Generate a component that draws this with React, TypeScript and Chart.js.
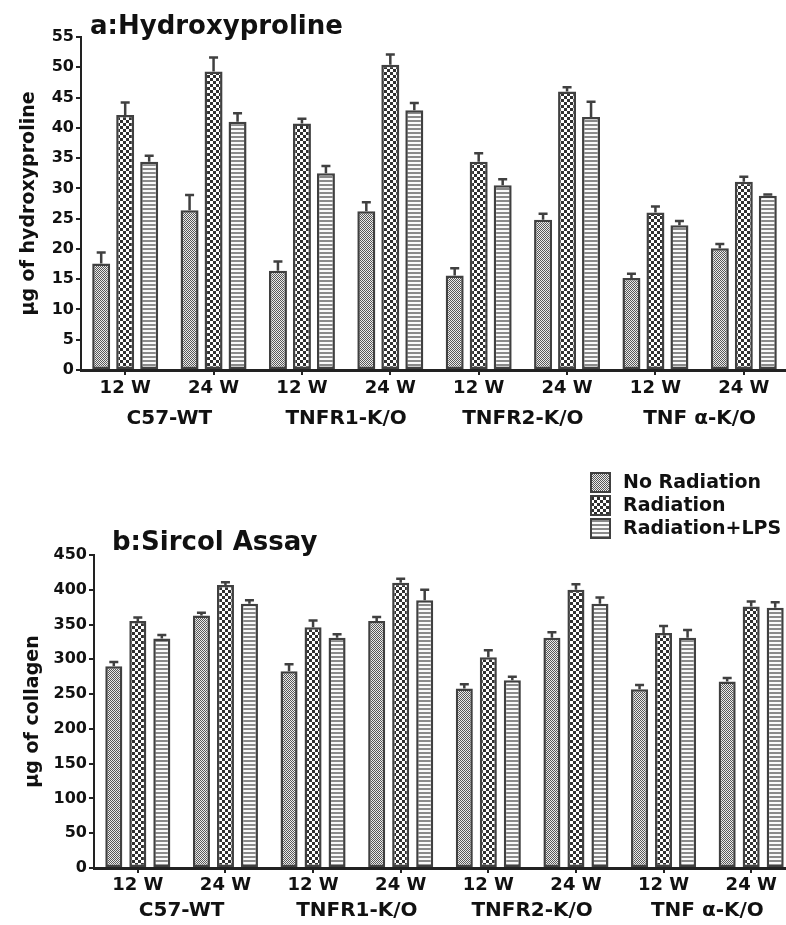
import React, { useEffect, useRef } from 'react';
import { Chart, registerables } from 'chart.js';

Chart.register(...registerables);
Chart.defaults.font.family = '"DejaVu Sans", sans-serif';

// ---- data ----
const timePoints = ['12 W', '24 W', '12 W', '24 W', '12 W', '24 W', '12 W', '24 W'];
const strains = ['C57-WT', 'TNFR1-K/O', 'TNFR2-K/O', 'TNF α-K/O'];
const seriesNames = ['No Radiation', 'Radiation', 'Radiation+LPS'];

// panel a: hydroxyproline (µg)
const hypNoRad = [17.6, 26.4, 16.4, 26.2, 15.6, 24.8, 15.2, 20.1];
const hypRad = [42.1, 49.3, 40.7, 50.4, 34.4, 46.0, 26.0, 31.1];
const hypLps = [34.4, 41.0, 32.5, 42.9, 30.5, 41.8, 23.9, 28.8];
const hypNoRadErr = [1.8, 2.5, 1.5, 1.5, 1.2, 1.0, 0.7, 0.7];
const hypRadErr = [2.1, 2.3, 0.8, 1.7, 1.4, 0.7, 1.0, 0.8];
const hypLpsErr = [1.0, 1.4, 1.2, 1.2, 1.0, 2.5, 0.7, 0.2];
const hypMax = 55;
const hypStep = 5;

// panel b: sircol assay (µg collagen)
const colNoRad = [290, 363, 283, 355, 258, 331, 257, 268];
const colRad = [355, 407, 346, 410, 303, 400, 338, 376];
const colLps = [330, 380, 331, 385, 270, 380, 331, 374];
const colNoRadErr = [6, 4, 10, 6, 6, 8, 6, 5];
const colRadErr = [5, 4, 10, 6, 10, 8, 10, 7];
const colLpsErr = [5, 5, 5, 15, 5, 9, 11, 8];
const colMax = 450;
const colStep = 50;

// ---- patterns ----
function makePattern(kind: number): CanvasPattern {
  const c = document.createElement('canvas');
  const ctx = c.getContext('2d')!;
  if (kind === 0) {
    c.width = 2; c.height = 2;
    ctx.fillStyle = '#ececec'; ctx.fillRect(0, 0, 2, 2);
    ctx.fillStyle = '#585858'; ctx.fillRect(0, 0, 1, 1); ctx.fillRect(1, 1, 1, 1);
  } else if (kind === 1) {
    c.width = 6; c.height = 6;
    ctx.fillStyle = '#ffffff'; ctx.fillRect(0, 0, 6, 6);
    ctx.fillStyle = '#303030'; ctx.fillRect(0, 0, 3, 3); ctx.fillRect(3, 3, 3, 3);
  } else {
    c.width = 4; c.height = 4;
    ctx.fillStyle = '#fafafa'; ctx.fillRect(0, 0, 4, 4);
    ctx.fillStyle = '#8a8a8a'; ctx.fillRect(0, 0, 4, 2);
  }
  return ctx.createPattern(c, 'repeat')!;
}

const BORDER = '#404040';

const errorBarPlugin = {
  id: 'errorBars',
  afterDatasetsDraw(chart: any, _args: any, opts: any) {
    const ctx = chart.ctx;
    const yScale = chart.scales.y;
    ctx.save();
    ctx.strokeStyle = BORDER;
    ctx.lineWidth = 2.5;
    chart.data.datasets.forEach((ds: any, i: number) => {
      const meta = chart.getDatasetMeta(i);
      meta.data.forEach((el: any, j: number) => {
        const v = ds.data[j];
        const e = opts.errors[i][j];
        const yTop = yScale.getPixelForValue(v + e);
        ctx.beginPath();
        ctx.moveTo(el.x, el.y);
        ctx.lineTo(el.x, yTop);
        ctx.moveTo(el.x - 4.5, yTop);
        ctx.lineTo(el.x + 4.5, yTop);
        ctx.stroke();
      });
    });
    ctx.restore();
  },
};

const panelTextPlugin = {
  id: 'panelText',
  afterDraw(chart: any, _args: any, opts: any) {
    const ctx = chart.ctx;
    ctx.save();
    ctx.fillStyle = '#111';
    ctx.textAlign = 'left';
    ctx.textBaseline = 'alphabetic';
    ctx.font = `bold ${opts.titleSize}px "DejaVu Sans"`;
    ctx.fillText(opts.title, opts.titleX, opts.titleY);
    if (opts.legend) {
      const L = opts.legend;
      seriesNames.forEach((name, i) => {
        const top = L.y + i * L.step;
        ctx.fillStyle = makePattern(i);
        ctx.fillRect(L.x, top, L.box, L.box);
        ctx.strokeStyle = BORDER;
        ctx.lineWidth = 2;
        ctx.strokeRect(L.x + 1, top + 1, L.box - 2, L.box - 2);
        ctx.fillStyle = '#111';
        ctx.font = `bold ${L.size}px "DejaVu Sans"`;
        ctx.textBaseline = 'middle';
        ctx.fillText(name, L.textX, top + L.box / 2 + 1);
      });
    }
    ctx.restore();
  },
};

type Spec = {
  width: number; height: number; top: number;
  values: number[][]; errors: number[][];
  yMax: number; step: number; yTitle: string; yTitlePad: number;
  yWidth: number; padTop: number; padRight: number;
  xHeight: number; x2Height: number; xPad: number; x2Pad: number;
  catPct: number; barPct: number;
  title: string; titleX: number; titleY: number; titleSize: number;
  legend?: any;
};

function buildConfig(p: Spec): any {
  const patterns = [0, 1, 2].map(makePattern);
  return {
    type: 'bar',
    data: {
      labels: timePoints,
      datasets: p.values.map((vals, i) => ({
        label: seriesNames[i],
        data: vals,
        backgroundColor: patterns[i],
        borderColor: BORDER,
        borderWidth: 2.5,
        borderSkipped: false,
        categoryPercentage: p.catPct,
        barPercentage: p.barPct,
      })),
    },
    options: {
      responsive: false,
      animation: false,
      devicePixelRatio: 1,
      layout: { padding: { top: p.padTop, right: p.padRight, left: 0, bottom: 0 } },
      plugins: {
        legend: { display: false },
        tooltip: { enabled: false },
        title: { display: false },
        errorBars: { errors: p.errors },
        panelText: { title: p.title, titleX: p.titleX, titleY: p.titleY, titleSize: p.titleSize, legend: p.legend },
      },
      scales: {
        x: {
          type: 'category', position: 'bottom', weight: 0, offset: true,
          grid: { offset: false, drawOnChartArea: false, drawTicks: true, tickLength: 5, lineWidth: 2, color: '#222' },
          border: { display: true, width: 3, color: '#222' },
          ticks: { font: { size: 18, weight: 'bold' }, color: '#111', padding: p.xPad, maxRotation: 0, autoSkip: false },
          afterFit: (s: any) => { s.height = p.xHeight; },
        },
        x2: {
          type: 'category', labels: strains, position: 'bottom', weight: 1, offset: true,
          grid: { display: false, drawTicks: false, drawOnChartArea: false },
          border: { display: false },
          ticks: { font: { size: 20, weight: 'bold' }, color: '#111', padding: p.x2Pad, maxRotation: 0, autoSkip: false },
          afterFit: (s: any) => { s.height = p.x2Height; },
        },
        y: {
          min: 0, max: p.yMax,
          ticks: { stepSize: p.step, font: { size: 16, weight: 'bold' }, color: '#111', padding: 2 },
          grid: { drawOnChartArea: false, tickLength: 5, lineWidth: 2, color: '#222' },
          border: { display: true, width: 2, color: '#222' },
          title: { display: true, text: p.yTitle, font: { size: 19, weight: 'bold' }, color: '#111', padding: { top: p.yTitlePad, bottom: 0 } },
          afterFit: (s: any) => { s.width = p.yWidth; },
        },
      },
    },
    plugins: [errorBarPlugin, panelTextPlugin],
  };
}

const panelA: Spec = {
  width: 800, height: 440, top: 0,
  values: [hypNoRad, hypRad, hypLps],
  errors: [hypNoRadErr, hypRadErr, hypLpsErr],
  yMax: hypMax, step: hypStep, yTitle: 'μg of hydroxyproline', yTitlePad: 18,
  yWidth: 81, padTop: 37, padRight: 12,
  xHeight: 30, x2Height: 40, xPad: 3, x2Pad: 7,
  catPct: 0.8145, barPct: 0.75,
  title: 'a:Hydroxyproline', titleX: 90, titleY: 34, titleSize: 26,
};

const panelB: Spec = {
  width: 800, height: 485, top: 440,
  values: [colNoRad, colRad, colLps],
  errors: [colNoRadErr, colRadErr, colLpsErr],
  yMax: colMax, step: colStep, yTitle: 'μg of collagen', yTitlePad: 22,
  yWidth: 94, padTop: 115, padRight: 5,
  xHeight: 30, x2Height: 27, xPad: 2, x2Pad: 1,
  catPct: 0.822, barPct: 0.71,
  title: 'b:Sircol Assay', titleX: 112, titleY: 110, titleSize: 26,
  legend: { x: 590, y: 32, step: 23, box: 21, textX: 623, size: 19 },
};

function Panel({ spec }: { spec: Spec }) {
  const ref = useRef<HTMLCanvasElement>(null);
  useEffect(() => {
    const chart = new Chart(ref.current!, buildConfig(spec));
    return () => chart.destroy();
  }, [spec]);
  return (
    <canvas
      ref={ref}
      width={spec.width}
      height={spec.height}
      style={{ position: 'absolute', left: 0, top: spec.top, width: spec.width, height: spec.height, display: 'block' }}
    />
  );
}

export default function App() {
  return (
    <div style={{ position: 'absolute', left: 0, top: 0, width: 786, height: 925, overflow: 'hidden', background: '#fff' }}>
      <Panel spec={panelA} />
      <Panel spec={panelB} />
    </div>
  );
}
